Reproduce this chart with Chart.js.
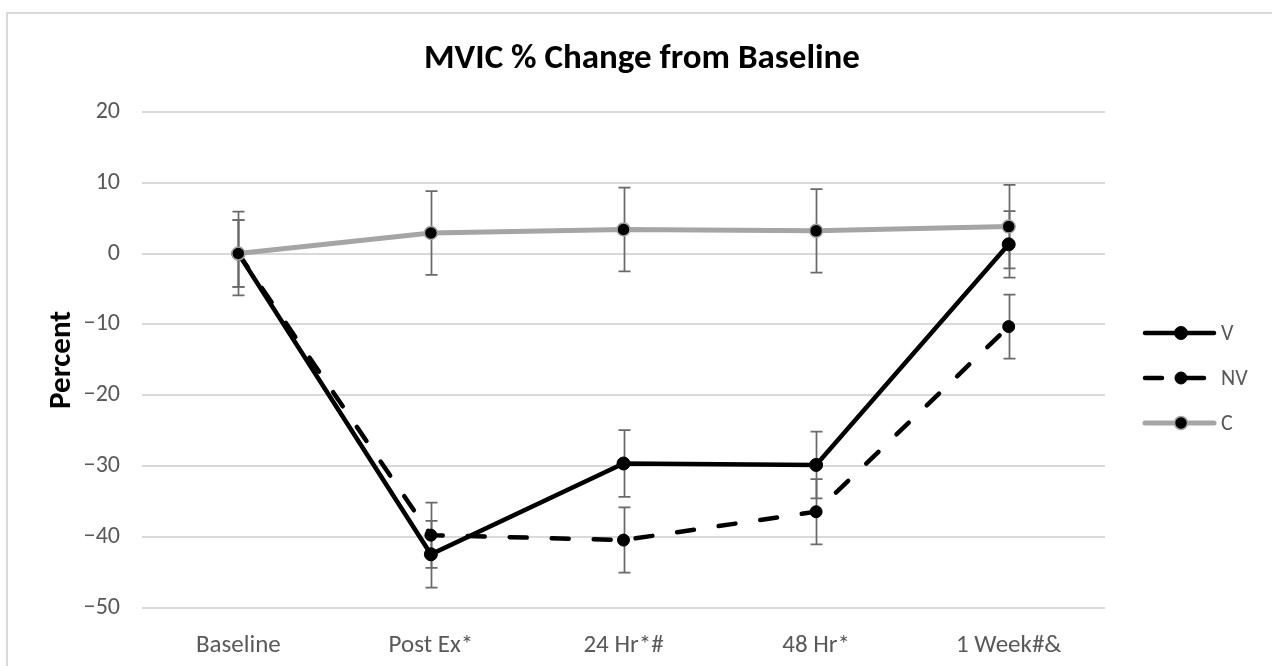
<!DOCTYPE html>
<html><head><meta charset="utf-8">
<script src="https://cdn.jsdelivr.net/npm/chart.js@4/dist/chart.umd.min.js"></script>
<style>html,body{margin:0;padding:0;background:#fff;overflow:hidden}#wrap{width:1272px;height:666px;position:relative}</style>
</head><body><div id="wrap"><canvas id="c" width="1272" height="666"></canvas></div>
<script>
const categories = ['Baseline', 'Post Ex*', '24 Hr*#', '48 Hr*', '1 Week#&'];
const seriesNames = ['V', 'NV', 'C'];
const valuesV  = [0, -42.4, -29.6, -29.8, 1.3];
const valuesNV = [0, -39.7, -40.4, -36.4, -10.3];
const valuesC  = [0, 2.9, 3.4, 3.2, 3.8];
const errV  = [4.7, 4.7, 4.7, 4.7, 4.7];
const errNV = [4.7, 4.6, 4.6, 4.6, 4.5];
const errC  = [5.9, 5.9, 5.9, 5.9, 5.9];
const yTicks = [-50, -40, -30, -20, -10, 0, 10, 20];

const FONT = "Carlito, Lato, 'Open Sans', sans-serif";
const TXT = '#595959';

const borderPlugin = {
  id: 'frame',
  beforeDraw(chart) {
    const ctx = chart.ctx;
    ctx.save();
    ctx.fillStyle = '#fff';
    ctx.fillRect(0, 0, chart.width, chart.height);
    ctx.strokeStyle = '#d9d9d9';
    ctx.lineWidth = 2;
    ctx.strokeRect(7, 13, 1400, 800);
    ctx.restore();
  }
};

const errorBarPlugin = {
  id: 'errbars',
  beforeDatasetsDraw(chart) {
    const ctx = chart.ctx, ys = chart.scales.y;
    ctx.save();
    ctx.strokeStyle = '#6a6a6a';
    ctx.lineWidth = 1.75;
    ctx.lineCap = 'butt';
    chart.data.datasets.forEach((ds, i) => {
      const meta = chart.getDatasetMeta(i);
      meta.data.forEach((pt, j) => {
        const v = ds.data[j], e = ds.errors[j];
        const x = Math.round(pt.x) + 0.5;
        const yt = ys.getPixelForValue(v + e), yb = ys.getPixelForValue(v - e);
        ctx.beginPath();
        ctx.moveTo(x, yt); ctx.lineTo(x, yb);
        ctx.moveTo(x - 6, yt); ctx.lineTo(x + 6, yt);
        ctx.moveTo(x - 6, yb); ctx.lineTo(x + 6, yb);
        ctx.stroke();
      });
    });
    ctx.restore();
  }
};

const legendPlugin = {
  id: 'sideLegend',
  afterDraw(chart) {
    const ctx = chart.ctx;
    const x0 = 1145, x1 = 1217, xm = 1181, ys = [333, 378, 423];
    ctx.save();
    chart.data.datasets.forEach((ds, i) => {
      const y = ys[i];
      ctx.beginPath();
      ctx.strokeStyle = ds.borderColor;
      ctx.lineWidth = ds.borderWidth;
      ctx.lineCap = 'round';
      ctx.setLineDash(ds.borderDash || []);
      ctx.moveTo(x0, y); ctx.lineTo(x1 - 3, y);
      ctx.stroke();
      ctx.setLineDash([]);
      ctx.beginPath();
      ctx.arc(xm, y, ds.pointRadius, 0, Math.PI * 2);
      ctx.fillStyle = ds.pointBackgroundColor;
      ctx.fill();
      ctx.lineWidth = ds.pointBorderWidth;
      ctx.strokeStyle = ds.pointBorderColor;
      ctx.stroke();
      ctx.fillStyle = TXT;
      ctx.font = '22px ' + FONT;
      ctx.textBaseline = 'middle';
      ctx.textAlign = 'left';
      ctx.fillText(ds.label, 1221, y + 1);
    });
    ctx.restore();
  }
};

new Chart(document.getElementById('c'), {
  type: 'line',
  data: {
    labels: categories,
    datasets: [
      { label: seriesNames[0], data: valuesV, errors: errV, borderColor: '#000', backgroundColor: '#000',
        borderWidth: 4.5, pointRadius: 6.5, pointBorderWidth: 1, pointBackgroundColor: '#000', pointBorderColor: '#000', order: 1 },
      { label: seriesNames[1], data: valuesNV, errors: errNV, borderColor: '#000', backgroundColor: '#000',
        borderWidth: 4.5, borderDash: [17, 25], borderCapStyle: 'round', pointRadius: 6, pointBorderWidth: 1,
        pointBackgroundColor: '#000', pointBorderColor: '#000', order: 2 },
      { label: seriesNames[2], data: valuesC, errors: errC, borderColor: '#a5a5a5', backgroundColor: '#a5a5a5',
        borderWidth: 5, pointRadius: 6.5, pointBorderWidth: 1.5, pointBackgroundColor: '#000', pointBorderColor: '#a5a5a5', order: 0 }
    ]
  },
  options: {
    responsive: false, animation: false, devicePixelRatio: 1,
    layout: { padding: { left: 12, right: 0, top: 0, bottom: 0 } },
    plugins: {
      legend: { display: false },
      tooltip: { enabled: false },
      title: { display: true, text: 'MVIC % Change from Baseline', color: '#000',
        font: { family: FONT, size: 35, weight: 'bold' }, padding: { top: 38.3, bottom: 31.4 } }
    },
    scales: {
      x: {
        offset: true,
        grid: { display: false, drawTicks: false },
        border: { display: false },
        ticks: { color: TXT, font: { family: FONT, size: 25 }, padding: 22.6, maxRotation: 0, autoSkip: false },
        afterFit(s) { s.height = 57.8; }
      },
      y: {
        min: -50, max: 20,
        afterBuildTicks(s) { s.ticks = yTicks.map(v => ({ value: v })); },
        grid: { color: '#d9d9d9', lineWidth: 2, drawTicks: false },
        border: { display: false },
        ticks: { color: TXT, font: { family: FONT, size: 24 }, padding: 22,
          callback: v => String(v).replace('-', '\u2212') },
        title: { display: true, text: 'Percent', color: '#000',
          font: { family: FONT, size: 31, weight: 'bold' }, padding: { top: 31.4, bottom: 0 } },
        afterFit(s) { s.width = 130; }
      },
      legendSpace: {
        type: 'linear', position: 'right', display: true,
        grid: { display: false, drawTicks: false }, border: { display: false },
        ticks: { display: false },
        afterFit(s) { s.width = 167; }
      }
    }
  },
  plugins: [borderPlugin, errorBarPlugin, legendPlugin]
});
</script>
</body></html>
